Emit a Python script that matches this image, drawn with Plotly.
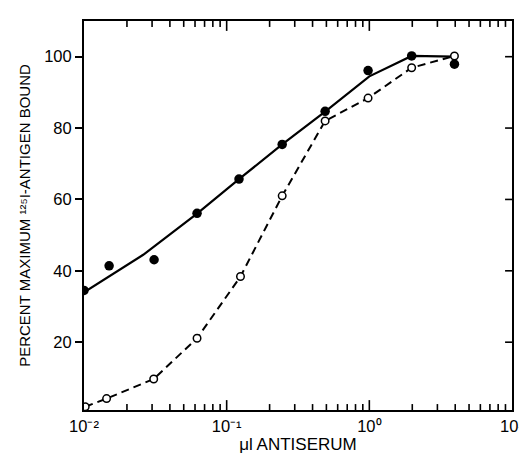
import plotly.graph_objects as go

# Filled circles (data) and fitted solid curve
filled_x = [0.01, 0.015, 0.031, 0.062, 0.122, 0.245, 0.49, 0.98, 1.98, 3.95]
filled_y = [34.5, 41.4, 43.1, 56.1, 65.7, 75.4, 84.7, 96.1, 100.2, 97.9]
fit_x = [0.01, 0.026, 0.062, 0.122, 0.245, 0.49, 1.0, 1.98, 3.95]
fit_y = [34.0, 44.5, 56.0, 65.7, 75.4, 84.6, 94.5, 100.2, 100.0]

# Open circles (dashed curve)
open_x = [0.0102, 0.0144, 0.0308, 0.062, 0.125, 0.245, 0.49, 0.98, 1.98, 3.95]
open_y = [1.9, 4.2, 9.7, 21.1, 38.4, 61.0, 82.0, 88.4, 96.9, 100.2]

x_major = [0.01, 0.1, 1, 10]
x_major_text = ["10⁻²", "10⁻¹", "10⁰", "10¹"]
x_minor = [m * d for d in [0.01, 0.1, 1] for m in range(2, 10)]
y_ticks = [20, 40, 60, 80, 100]

FONT = "Liberation Sans"
W, H = 527, 454
M = dict(l=76, r=19, t=11, b=50)
PW = W - M["l"] - M["r"]
PH = H - M["t"] - M["b"]

fig = go.Figure()
fig.add_trace(go.Scatter(x=fit_x, y=fit_y, mode="lines",
                         line=dict(color="black", width=2.2), hoverinfo="skip"))
fig.add_trace(go.Scatter(x=filled_x, y=filled_y, mode="markers",
                         marker=dict(color="black", size=9.5, symbol="circle")))
fig.add_trace(go.Scatter(x=open_x, y=open_y, mode="lines+markers",
                         line=dict(color="black", width=2, dash="8px,5px"),
                         marker=dict(color="white", size=7.5, symbol="circle",
                                     line=dict(color="black", width=1.5))))

# inward tick marks on bottom/top (x) and right (y) frame edges
tick_line = dict(color="black", width=1.6)
for vals, ln in [(x_major[1:-1], 10), (x_minor, 6)]:
    f = ln / PH
    for v in vals:
        fig.add_shape(type="line", xref="x", yref="paper", x0=v, x1=v,
                      y0=0, y1=f, line=tick_line, layer="above")
        fig.add_shape(type="line", xref="x", yref="paper", x0=v, x1=v,
                      y0=1, y1=1 - f, line=tick_line, layer="above")
for v in y_ticks:
    fig.add_shape(type="line", xref="paper", yref="y", x0=1, x1=1 - 7 / PW,
                  y0=v, y1=v, line=tick_line, layer="above")

fig.update_layout(
    width=W, height=H,
    margin=M,
    paper_bgcolor="white", plot_bgcolor="white",
    showlegend=False,
    font=dict(family=FONT, color="black", size=15),
    xaxis=dict(type="log", range=[-2, 1], tickmode="array", tickvals=x_major,
               ticktext=x_major_text, ticks="",
               showline=True, linecolor="black", linewidth=2, mirror=True,
               showgrid=False, zeroline=False,
               tickfont=dict(size=16.5),
               title=dict(text="μl ANTISERUM", font=dict(size=17), standoff=4)),
    yaxis=dict(range=[1, 110], tickmode="array", tickvals=y_ticks,
               ticks="outside", ticklen=7, tickwidth=1.5, tickcolor="black",
               showline=True, linecolor="black", linewidth=2, mirror=True,
               showgrid=False, zeroline=False,
               tickfont=dict(size=16.5),
               title=dict(text="PERCENT MAXIMUM ¹²⁵I-ANTIGEN BOUND",
                          font=dict(size=15), standoff=10)),
)

fig.write_html("out.html")
